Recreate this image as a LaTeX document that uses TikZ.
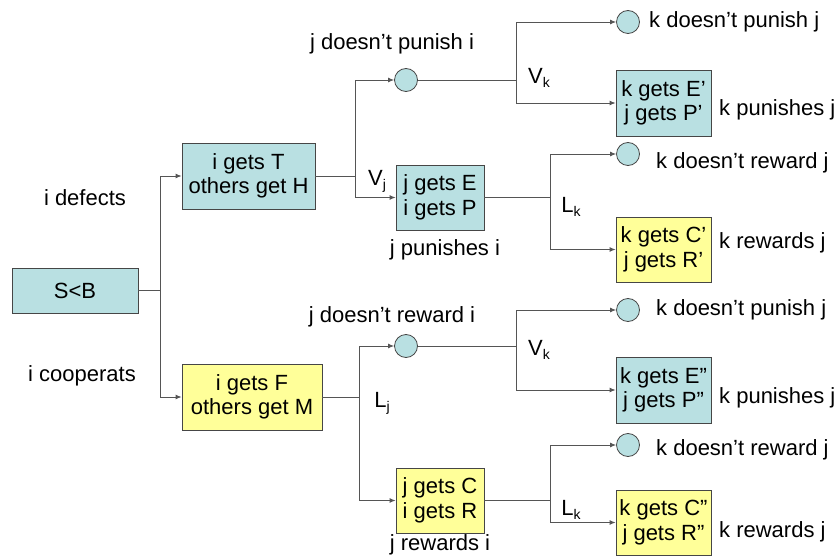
\documentclass[tikz,border=0pt]{standalone}
\usepackage{fontspec}
\setmainfont{Liberation Sans}
\usetikzlibrary{arrows.meta}
\definecolor{payblue}{RGB}{185,224,226}
\definecolor{payyellow}{RGB}{255,255,153}
\definecolor{edgegray}{RGB}{70,70,70}
\definecolor{linegray}{RGB}{85,85,85}
\newcommand{\lowsub}[1]{\raisebox{-0.35ex}{\fontsize{14}{14}\selectfont #1}}
\begin{document}
\begin{tikzpicture}[x=1pt,y=-1pt,
  every node/.style={font=\fontsize{22}{24.5}\selectfont, inner sep=0pt},
  box/.style={draw=edgegray, line width=0.8pt, align=center},
  bluebox/.style={box, fill=payblue},
  yellowbox/.style={box, fill=payyellow},
  chance/.style={circle, draw=edgegray, line width=0.8pt, fill=payblue, minimum size=23pt},
  link/.style={draw=linegray, line width=0.9pt},
  arr/.style={link, -{Latex[length=6pt,width=5pt]}},
]
\useasboundingbox (0,0) rectangle (838,556);

% decision nodes and payoffs
\node[bluebox, minimum width=126pt, minimum height=45pt] (sb) at (75,290.5) {S<B};
\node[bluebox, minimum width=133pt, minimum height=66pt] (th) at (248.5,176) {i gets T\\others get H};
\node[yellowbox, minimum width=140pt, minimum height=66pt] (fm) at (252,397) {i gets F\\others get M};

\node[chance] (c1) at (406,80) {};
\node[bluebox, minimum width=88pt, minimum height=65pt] (ep) at (440,197.5) {j gets E\\i gets P};
\node[chance] (c3) at (406,346) {};
\node[yellowbox, minimum width=88pt, minimum height=65pt] (jc) at (440,500.5) {j gets C\\i gets R};

\node[chance] (c2a) at (628,22) {};
\node[bluebox, minimum width=95pt, minimum height=66pt] (epp) at (663.5,103) {k gets E’\\j gets P’};
\node[chance] (c2b) at (628,154) {};
\node[yellowbox, minimum width=95pt, minimum height=65pt] (crp) at (663.5,249.5) {k gets C’\\j gets R’};

\node[chance] (c4a) at (628,310) {};
\node[bluebox, minimum width=95pt, minimum height=66pt] (eppp) at (663.5,390) {k gets E”\\j gets P”};
\node[chance] (c4b) at (628,445) {};
\node[yellowbox, minimum width=95pt, minimum height=65pt] (crpp) at (663.5,522.5) {k gets C”\\j gets R”};

% branching connectors
\draw[link] (sb.east) -- ++(22,0) coordinate (j1);
\draw[arr] (j1) |- (th.west);
\draw[arr] (j1) |- (fm.west);

\draw[link] (th.east) -- ++(40,0) coordinate (j2);
\draw[arr] (j2) |- (c1.west);
\draw[arr] (j2) |- (ep.west);

\draw[link] (c1.east) -- ++(98.5,0) coordinate (j3);
\draw[arr] (j3) |- (c2a.west);
\draw[arr] (j3) |- (epp.west);

\draw[link] (ep.east) -- ++(66,0) coordinate (j4);
\draw[arr] (j4) |- (c2b.west);
\draw[arr] (j4) |- (crp.west);

\draw[link] (fm.east) -- ++(37,0) coordinate (j5);
\draw[arr] (j5) |- (c3.west);
\draw[arr] (j5) |- (jc.west);

\draw[link] (c3.east) -- ++(98.5,0) coordinate (j6);
\draw[arr] (j6) |- (c4a.west);
\draw[arr] (j6) |- (eppp.west);

\draw[link] (jc.east) -- ++(66,0) coordinate (j7);
\draw[arr] (j7) |- (c4b.west);
\draw[arr] (j7) |- (crpp.west);

% action labels
\node (ldef) at (85,198) {i defects};
\node (lcoop) at (82,376) {i cooperats};

\node (l1) at (392,44) {j doesn’t punish i};
\node (lvj) at (377,181) {V\lowsub{j}};
\node (l2) at (445,250) {j punishes i};
\node (lvk1) at (539,78) {V\lowsub{k}};
\node[anchor=west] (l3) at (649,22) {k doesn’t punish j};
\node[anchor=west] (l4) at (719,110) {k punishes j};
\node (llk1) at (571,207) {L\lowsub{k}};
\node[anchor=west] (l5) at (656,163) {k doesn’t reward j};
\node[anchor=west] (l6) at (719,243) {k rewards j};

\node (l7) at (392,317) {j doesn’t reward i};
\node (llj) at (382,403) {L\lowsub{j}};
\node (l8) at (440,545) {j rewards i};
\node (lvk2) at (539,350) {V\lowsub{k}};
\node[anchor=west] (l9) at (656,310) {k doesn’t punish j};
\node[anchor=west] (l10) at (719,398) {k punishes j};
\node (llk2) at (571,510) {L\lowsub{k}};
\node[anchor=west] (l11) at (656,450) {k doesn’t reward j};
\node[anchor=west] (l12) at (719,532) {k rewards j};
\end{tikzpicture}
\end{document}
